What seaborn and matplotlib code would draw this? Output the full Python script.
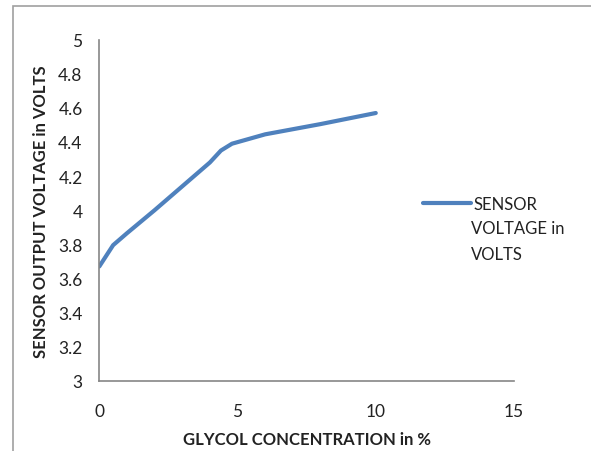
import matplotlib
matplotlib.use("Agg")
import matplotlib.pyplot as plt
import seaborn as sns
import pandas as pd
from matplotlib.patches import Rectangle

concentration = [0, 0.5, 1, 2, 3, 4, 4.4, 4.8, 6, 8, 10]
voltage = [3.67, 3.795, 3.865, 4.0, 4.14, 4.28, 4.35, 4.39, 4.445, 4.505, 4.57]
series_name = "SENSOR"
series_name_rest = "VOLTAGE in\nVOLTS"
x_ticks = [0, 5, 10, 15]
y_ticks = [3, 3.2, 3.4, 3.6, 3.8, 4, 4.2, 4.4, 4.6, 4.8, 5]

sns.set_style("white")
plt.rcParams['font.family'] = ['Lato', 'DejaVu Sans']

df = pd.DataFrame({"x": concentration, "y": voltage})

W, H = 591, 452
fig = plt.figure(figsize=(W / 100, H / 100), dpi=100)
ax = fig.add_axes([99.3 / W, 1 - 381.7 / H, (514 - 99.3) / W, (381.7 - 40.7) / H])

sns.lineplot(data=df, x="x", y="y", ax=ax, color="#4F81BD", linewidth=3.0,
             solid_capstyle="round", solid_joinstyle="round", label=series_name)

ax.set_xlim(0, 15)
ax.set_ylim(3, 5)
ax.set_xticks(x_ticks)
ax.set_yticks(y_ticks)
ax.set_xticklabels([str(t) for t in x_ticks])
ax.set_yticklabels([f"{t:g}" for t in y_ticks])
ax.tick_params(axis="both", which="both", direction="out", length=5, width=1,
               color="#868686", labelsize=12.5, labelcolor="#222222")
ax.tick_params(axis="x", pad=11)
ax.tick_params(axis="y", pad=7)
for s in ["top", "right"]:
    ax.spines[s].set_visible(False)
for s in ["left", "bottom"]:
    ax.spines[s].set_color("#868686")
    ax.spines[s].set_linewidth(1.2)

ax.set_xlabel("GLYCOL CONCENTRATION in %", fontsize=12, fontweight="bold",
              color="#222222", labelpad=9)
ax.set_ylabel("SENSOR OUTPUT VOLTAGE in VOLTS", fontsize=12, fontweight="bold",
              color="#222222", labelpad=7)

leg = ax.legend(loc="center left", bbox_to_anchor=((428 - 99.3) / (514 - 99.3) - 0.012,
                                                    (381.7 - 205) / (381.7 - 40.7)),
                frameon=False, fontsize=12, handlelength=2.9, handletextpad=0.15,
                borderaxespad=0, borderpad=0)
for t in leg.get_texts():
    t.set_color("#222222")

fig.text(471 / W, 1 - 221 / H, series_name_rest, fontsize=12, color="#222222",
         ha="left", va="top", linespacing=1.78)

fig.patches.append(Rectangle((13 / W, -0.1), 1.0, 1 - 7 / H + 0.1,
                             transform=fig.transFigure, fill=False,
                             edgecolor="#A0A0A0", linewidth=1.2))

fig.savefig("out.png", dpi=100)
